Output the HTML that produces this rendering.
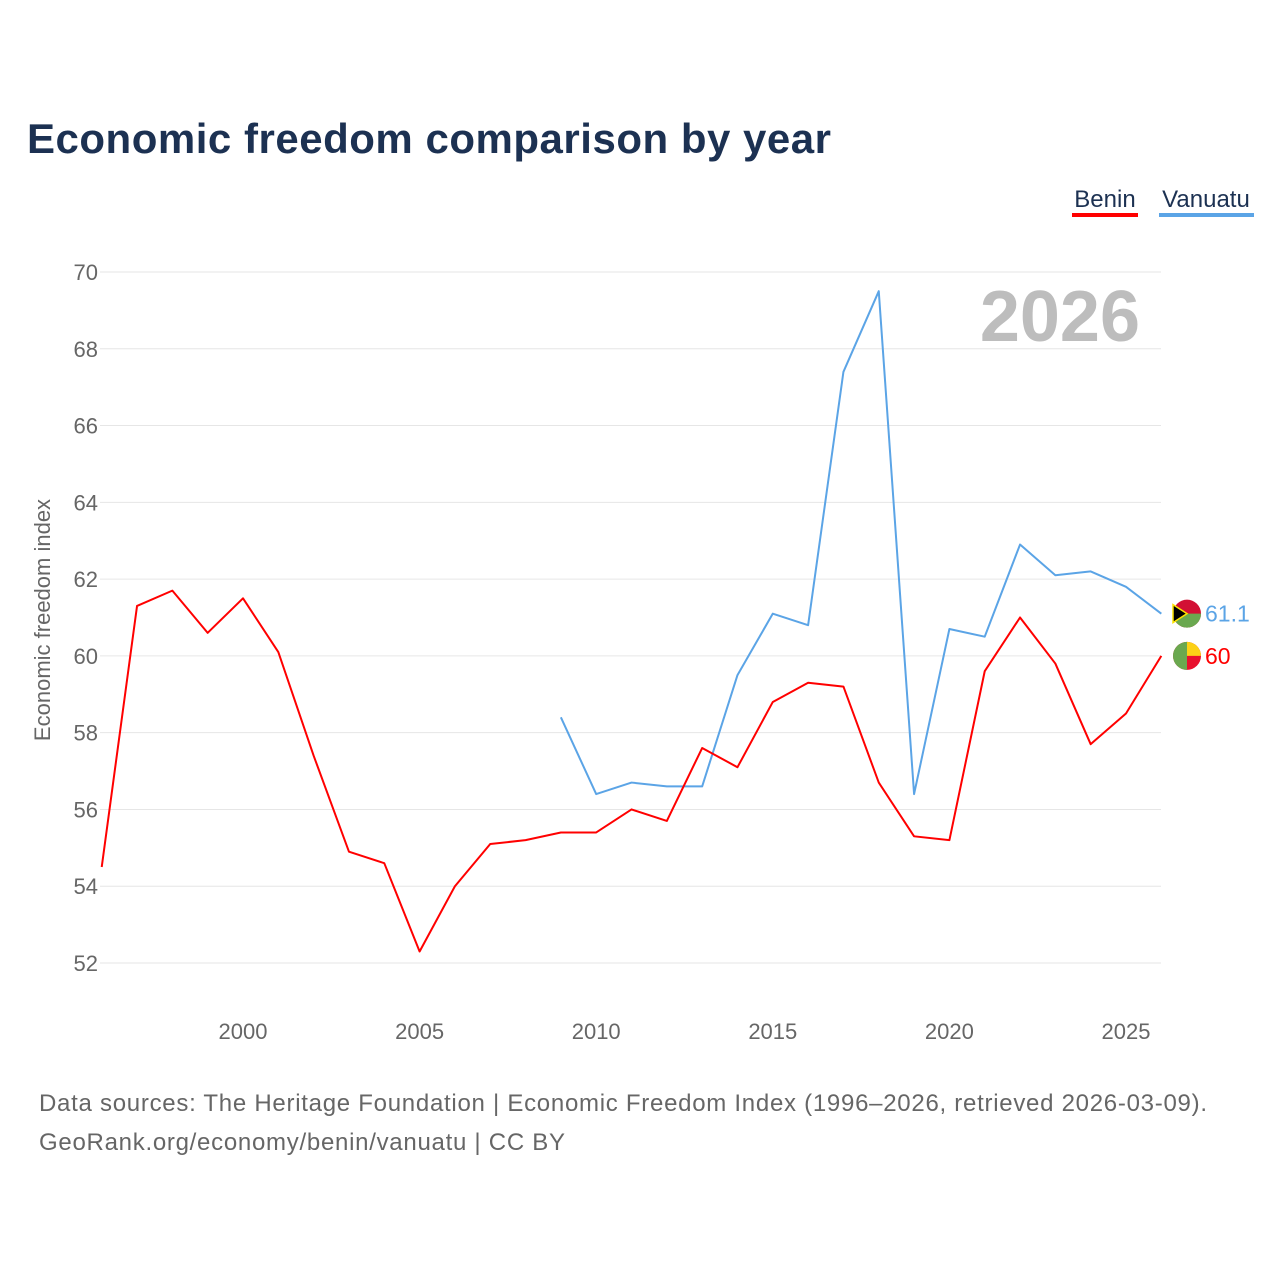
<!DOCTYPE html>
<html><head><meta charset="utf-8"><style>
body{margin:0;background:#fff;font-family:"Liberation Sans",sans-serif;}
svg text{font-family:"Liberation Sans",sans-serif;}
</style></head><body>
<svg width="1280" height="1280" xmlns="http://www.w3.org/2000/svg">
<rect width="1280" height="1280" fill="#fff"/>
<text x="27" y="153" font-size="42" font-weight="bold" fill="#1c3152" textLength="804" lengthAdjust="spacing">Economic freedom comparison by year</text>
<g><text x="1105" y="207" font-size="24" fill="#1c3152" text-anchor="middle">Benin</text><rect x="1072" y="213" width="66" height="4" fill="#f00"/></g>
<g><text x="1206" y="207" font-size="24" fill="#1c3152" text-anchor="middle">Vanuatu</text><rect x="1159" y="213" width="95" height="4" fill="#5ba4e6"/></g>
<g id="grid"></g>
<text x="1140" y="341" font-size="72" font-weight="bold" fill="#bdbdbd" text-anchor="end">2026</text>
<text transform="translate(50,620) rotate(-90)" font-size="22" fill="#666" text-anchor="middle">Economic freedom index</text>
<g id="series"></g>
<text x="39" y="1111" font-size="24" fill="#666" textLength="1168" lengthAdjust="spacing">Data sources: The Heritage Foundation | Economic Freedom Index (1996–2026, retrieved 2026-03-09).</text>
<text x="39" y="1150" font-size="24" fill="#666" textLength="526" lengthAdjust="spacing">GeoRank.org/economy/benin/vanuatu | CC BY</text>
</svg>
<script>
const years=[1996,1997,1998,1999,2000,2001,2002,2003,2004,2005,2006,2007,2008,2009,2010,2011,2012,2013,2014,2015,2016,2017,2018,2019,2020,2021,2022,2023,2024,2025,2026];
const benin=[54.5,61.3,61.7,60.6,61.5,60.1,57.4,54.9,54.6,52.3,54.0,55.1,55.2,55.4,55.4,56.0,55.7,57.6,57.1,58.8,59.3,59.2,56.7,55.3,55.2,59.6,61.0,59.8,57.7,58.5,60.0];
const vanYears=[2009,2010,2011,2012,2013,2014,2015,2016,2017,2018,2019,2020,2021,2022,2023,2024,2025,2026];
const vanuatu=[58.4,56.4,56.7,56.6,56.6,59.5,61.1,60.8,67.4,69.5,56.4,60.7,60.5,62.9,62.1,62.2,61.8,61.1];
const yTicks=[52,54,56,58,60,62,64,66,68,70];
const xTicks=[2000,2005,2010,2015,2020,2025];
const NS="http://www.w3.org/2000/svg";
const X=v=>243+(v-2000)*35.32;
const Y=v=>963-(v-52)*38.39;
const grid=document.getElementById('grid'),ser=document.getElementById('series');
function mk(tag,attrs,parent){const e=document.createElementNS(NS,tag);for(const k in attrs)e.setAttribute(k,attrs[k]);parent.appendChild(e);return e;}
yTicks.forEach(t=>{
 const l=mk('line',{x1:100,x2:1161,y1:Y(t),y2:Y(t),stroke:'#e6e6e6','stroke-width':1},grid);
 
 
 const tx=mk('text',{x:98,y:Y(t)+8,'font-size':22,fill:'#666','text-anchor':'end'},grid);tx.textContent=t;
 
 
});
xTicks.forEach(t=>{
 const tx=mk('text',{x:X(t),y:1039,'font-size':22,fill:'#666','text-anchor':'middle'},grid);tx.textContent=t;
 
 
});
function line(xs,vs,c,name){
 const p=mk('polyline',{points:xs.map((x,i)=>X(x)+','+Y(vs[i])).join(' '),fill:'none',stroke:c,'stroke-width':2,'stroke-linejoin':'round'},ser);
 
 
}
line(vanYears,vanuatu,'#5ba4e6','vanuatu-line');
line(years,benin,'#f00','benin-line');
const vl=vanuatu[vanuatu.length-1],bl=benin[benin.length-1];
const fx=1187;
const vf=mk('g',{},ser);


mk('circle',{cx:fx,cy:Y(vl),r:14,fill:'#d21034'},vf);
mk('path',{d:`M${fx-14},${Y(vl)} h28 a14,14 0 0 1 -28,0z`,fill:'#6aa84f'},vf);
mk('path',{d:`M${fx-14},${Y(vl)-9} L${fx},${Y(vl)} L${fx-14},${Y(vl)+9}z`,fill:'#000',stroke:'#fce300','stroke-width':1.5},vf);
const vt=mk('text',{x:1205,y:Y(vl)+8,'font-size':23,fill:'#5ba4e6'},ser);vt.textContent=vl;


const bf=mk('g',{},ser);


mk('circle',{cx:fx,cy:Y(bl),r:14,fill:'#e8112d'},bf);
mk('path',{d:`M${fx},${Y(bl)} V${Y(bl)-14} a14,14 0 0 1 14,14z`,fill:'#fcd116'},bf);
mk('path',{d:`M${fx},${Y(bl)-14} a14,14 0 0 0 0,28z`,fill:'#6aa84f'},bf);
const bt=mk('text',{x:1205,y:Y(bl)+8,'font-size':23,fill:'#f00'},ser);bt.textContent=bl%1===0?bl.toFixed(0):bl;


</script>
</body></html>
